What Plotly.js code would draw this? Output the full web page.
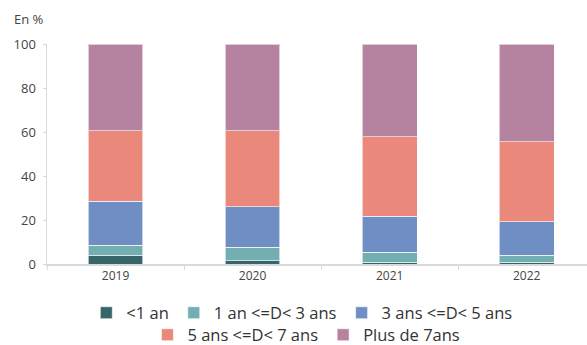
<!DOCTYPE html>
<html><head><meta charset="utf-8">
<script src="https://cdn.plot.ly/plotly-3.0.1.min.js"></script>
<style>html,body{margin:0;padding:0;background:#fff}#c{width:587px;height:345px}</style>
</head><body><div id="c"></div>
<script>
const years = ['2019','2020','2021','2022'];
const seriesNames = ['<1 an','1 an <=D< 3 ans','3 ans <=D< 5 ans','5 ans <=D< 7 ans','Plus de 7ans'];
const lt1 = [4.0, 1.5, 0.8, 0.8];
const d1to3 = [4.6, 6.1, 4.6, 3.2];
const d3to5 = [20.0, 18.4, 16.2, 15.2];
const d5to7 = [32.0, 34.5, 36.2, 36.3];
const plus7 = [39.4, 39.5, 42.2, 44.5];
const colors = ['#37656a','#72aeb2','#6e8ec4','#ea887c','#b5829f'];
const vals = [lt1, d1to3, d3to5, d5to7, plus7];
const traces = vals.map((v,i)=>({
  type:'bar', x: years, y: v, name: seriesNames[i],
  legend: i < 3 ? 'legend' : 'legend2',
  marker:{color: colors[i], line:{color:'rgba(255,255,255,0.6)', width:1}},
  hoverinfo:'none'
}));
const f = '"Open Sans", Roboto, sans-serif';
const legFont = {size:16.5, color:'#333', family:f};
Plotly.newPlot('c', traces, {
  width:587, height:345, barmode:'stack', bargap:0.6,
  margin:{l:47, r:0, t:44, b:81},
  paper_bgcolor:'#fff', plot_bgcolor:'#fff',
  font:{family:f, color:'#444', size:13},
  showlegend:true,
  legend:{orientation:'h', xref:'container', yref:'container', x:0.515, xanchor:'center', y:(345-313)/345, yanchor:'middle', font:legFont, traceorder:'normal', itemwidth:30, tracegroupgap:0, bgcolor:'rgba(0,0,0,0)'},
  legend2:{orientation:'h', xref:'container', yref:'container', x:0.522, xanchor:'center', y:(345-335)/345, yanchor:'middle', font:legFont, traceorder:'normal', itemwidth:30, tracegroupgap:0, bgcolor:'rgba(0,0,0,0)'},
  xaxis:{type:'category', range:[-0.5, 3.44], showline:true, linecolor:'#d9d9d9', linewidth:1.5, ticks:'outside', tickson:'boundaries', ticklen:4, tickcolor:'#d9d9d9', showgrid:false, tickfont:{size:12, color:'#444'}, fixedrange:true},
  yaxis:{range:[0,100], dtick:20, showline:true, linecolor:'#d9d9d9', linewidth:1.5, ticks:'outside', ticklen:3, tickcolor:'#d9d9d9', showgrid:false, zeroline:false, tickfont:{size:13, color:'#444'}, ticklabelstandoff:4},
  annotations:[{text:'En %', xref:'paper', yref:'paper', x:-0.065, y:1.115, xanchor:'left', yanchor:'middle', showarrow:false, font:{size:13, color:'#444', family:f}}]
}, {displayModeBar:false, staticPlot:true});
</script></body></html>
